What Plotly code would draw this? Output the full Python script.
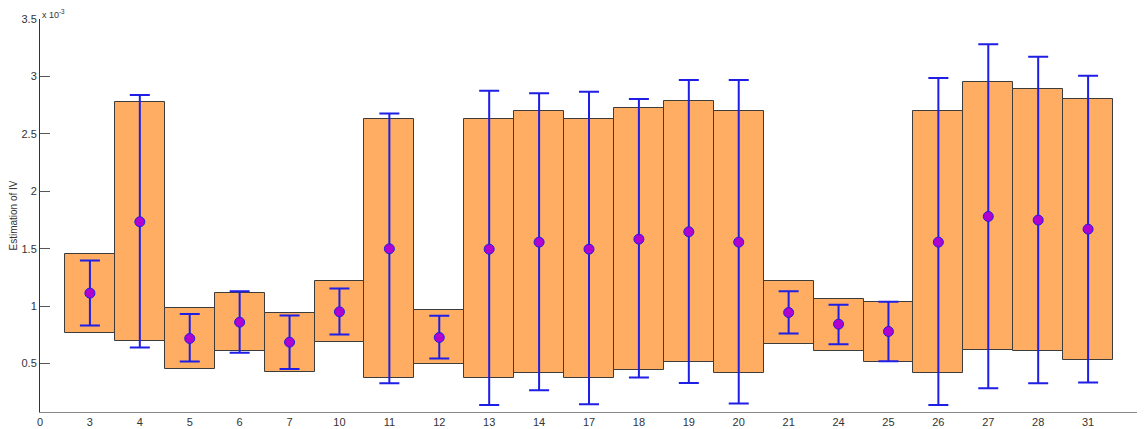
import plotly.graph_objects as go

# Category labels (x axis) and values in units of 1e-3
categories = ["3", "4", "5", "6", "7", "10", "11", "12", "13", "14", "17",
              "18", "19", "20", "21", "24", "25", "26", "27", "28", "31"]
box_low = [0.770, 0.700, 0.456, 0.605, 0.430, 0.686, 0.372, 0.494, 0.372, 0.418, 0.372,
           0.447, 0.514, 0.416, 0.666, 0.610, 0.514, 0.416, 0.616, 0.610, 0.535]
box_high = [1.455, 2.780, 0.982, 1.110, 0.944, 1.215, 2.632, 0.965, 2.632, 2.696, 2.632,
            2.722, 2.786, 2.696, 1.215, 1.063, 1.034, 2.696, 2.948, 2.887, 2.803]
estimate = [1.113, 1.734, 0.718, 0.860, 0.686, 0.950, 1.499, 0.727, 1.496, 1.557, 1.496,
            1.583, 1.647, 1.557, 0.944, 0.843, 0.779, 1.557, 1.781, 1.749, 1.670]
err_low = [0.831, 0.640, 0.517, 0.593, 0.453, 0.753, 0.328, 0.544, 0.139, 0.267, 0.146,
           0.378, 0.331, 0.152, 0.761, 0.668, 0.520, 0.139, 0.285, 0.328, 0.335]
err_high = [1.398, 2.838, 0.932, 1.130, 0.918, 1.153, 2.678, 0.915, 2.875, 2.853, 2.867,
            2.803, 2.969, 2.969, 1.130, 1.011, 1.037, 2.986, 3.280, 3.172, 3.006]
y_ticks = [0.5, 1, 1.5, 2, 2.5, 3, 3.5]
y_tick_labels = ["0.5", "1", "1.5", "2", "2.5", "3", "3.5"]

positions = list(range(1, len(categories) + 1))
heights = [h - l for h, l in zip(box_high, box_low)]
plus = [h - m for h, m in zip(err_high, estimate)]
minus = [m - l for m, l in zip(estimate, err_low)]

fig = go.Figure()
fig.add_trace(go.Bar(
    x=positions, y=heights, base=box_low, width=1,
    marker=dict(color="#FFAD62", line=dict(color="#3c3c3c", width=1)),
    hoverinfo="skip",
))
fig.add_trace(go.Scatter(
    x=positions, y=estimate, mode="markers",
    marker=dict(size=10, color="#B000D0", line=dict(color="#1E1EE6", width=1)),
    error_y=dict(type="data", symmetric=False, array=plus, arrayminus=minus,
                 color="#1E1EE6", thickness=2, width=10),
))

font = dict(family="Liberation Sans, Arial, sans-serif", size=11, color="#333333")
# page body has an 8px default margin, so the figure is sized/offset for it
fig.update_layout(
    width=1137, height=421,
    margin=dict(l=32, r=7, t=11, b=17),
    paper_bgcolor="white", plot_bgcolor="white",
    showlegend=False, bargap=0, font=font,
    xaxis=dict(
        range=[0, 22], tickvals=[0] + positions, ticktext=["0"] + categories,
        showline=True, linecolor="#888888", linewidth=1, ticks="",
        showgrid=False, zeroline=False, tickfont=font, automargin=False,
    ),
    yaxis=dict(
        range=[0.078, 3.5], tickvals=y_ticks, ticktext=y_tick_labels,
        showline=True, linecolor="#333333", linewidth=1,
        ticks="inside", ticklen=10, tickcolor="#555555",
        showgrid=False, zeroline=False, tickfont=font, automargin=False,
        title=dict(text="Estimation of IV",
                   font=dict(family="Liberation Sans, Arial, sans-serif", size=10, color="#333333"),
                   standoff=6),
    ),
    annotations=[dict(
        text="x 10<sup>-3</sup>", xref="paper", yref="paper", x=0, y=1,
        xanchor="left", yanchor="bottom", showarrow=False,
        font=dict(family="Liberation Sans, Arial, sans-serif", size=9, color="#333333"),
        yshift=-3,
    )],
)

fig.write_html("out.html")
